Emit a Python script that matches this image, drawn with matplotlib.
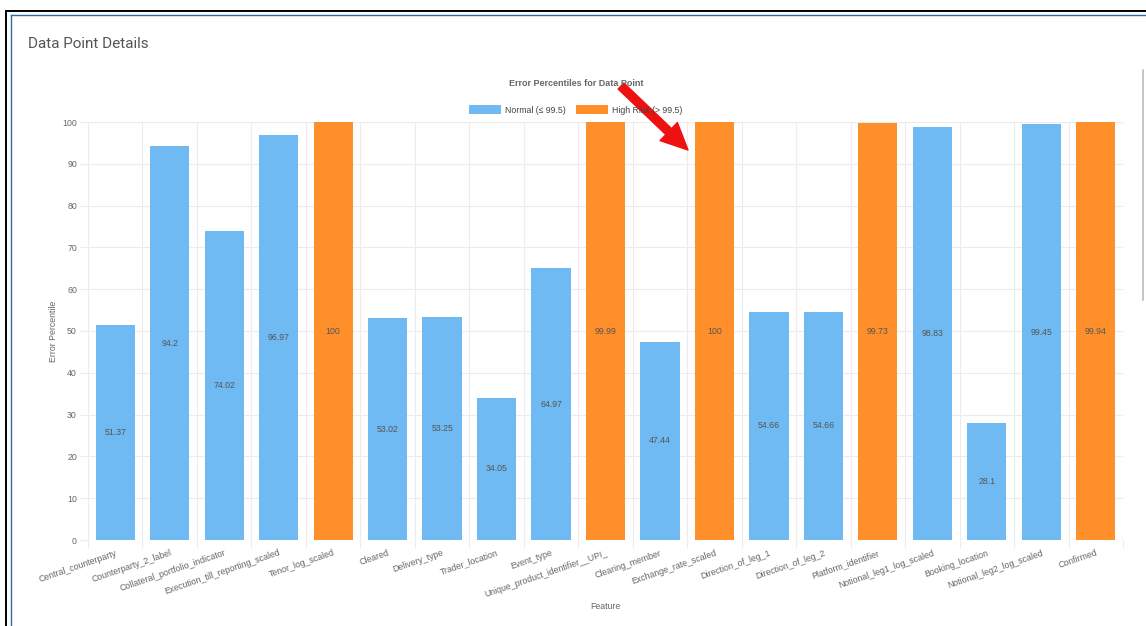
import matplotlib.pyplot as plt
from matplotlib.patches import Patch
from matplotlib.lines import Line2D
import numpy as np

features = [
    "Central_counterparty", "Counterparty_2_label", "Collateral_portfolio_indicator",
    "Execution_till_reporting_scaled", "Tenor_log_scaled", "Cleared", "Delivery_type",
    "Trader_location", "Event_type", "Unique_product_identifier__UPI_", "Clearing_member",
    "Exchange_rate_scaled", "Direction_of_leg_1", "Direction_of_leg_2", "Platform_identifier",
    "Notional_leg1_log_scaled", "Booking_location", "Notional_leg2_log_scaled", "Confirmed",
]
percentiles = [51.37, 94.2, 74.02, 96.97, 100, 53.02, 53.25, 34.05, 64.97, 99.99,
               47.44, 100, 54.66, 54.66, 99.73, 98.83, 28.1, 99.45, 99.94]
threshold = 99.5

BLUE = "#6fbaf3"
ORANGE = "#ff8f2b"
GRID = "#ececec"
TXT = "#666666"

W, H = 1146, 626
fig = plt.figure(figsize=(W / 100, H / 100), dpi=100)
plt.rcParams["font.family"] = ["Liberation Sans", "DejaVu Sans"]

def fx(px):
    return px / W

def fy(py):
    return 1 - py / H

# page frame
fig.add_artist(Line2D([fx(6), fx(6)], [fy(11), 0], color="black", lw=1.4))
fig.add_artist(Line2D([fx(6), 1], [fy(11), fy(11)], color="black", lw=1.4))
fig.add_artist(Line2D([fx(11), fx(11)], [fy(15), 0], color="#2f6aa6", lw=1.0))
fig.add_artist(Line2D([fx(11), 1], [fy(15), fy(15)], color="#2f6aa6", lw=1.0))
fig.add_artist(Line2D([fx(1143), fx(1143)], [fy(70), fy(300)], color="#bbbbbb", lw=1.2))

fig.text(fx(28), fy(44), "Data Point Details", fontsize=11, color="#555555",
         family=["Roboto", "DejaVu Sans"], va="center", ha="left")

ax = fig.add_axes([fx(88), fy(540), fx(1123 - 88), (540 - 122) / H])
x = np.arange(len(features))
colors = [ORANGE if v > threshold else BLUE for v in percentiles]
bars = ax.bar(x, percentiles, width=0.72, color=colors, zorder=2)

for b, v in zip(bars, percentiles):
    ax.text(b.get_x() + b.get_width() / 2, v / 2, f"{v:g}", ha="center", va="center",
            fontsize=6.3, color="#555555", zorder=3)

ax.set_xlim(-0.5, len(features) - 0.5)
ax.set_ylim(0, 100)
ax.set_yticks(range(0, 101, 10))
ax.set_xticks(x)
ax.set_xticklabels(features, rotation=19, ha="right", rotation_mode="anchor",
                   fontsize=6.3, color=TXT)
ax.set_xticks(np.arange(-0.5, len(features)), minor=True)
ax.tick_params(axis="x", which="major", length=0, pad=6)
ax.tick_params(axis="x", which="minor", length=6, color=GRID, width=0.8)
ax.tick_params(axis="y", length=6, color=GRID, width=0.8, labelsize=6.3,
               labelcolor=TXT, pad=2)
ax.grid(axis="y", color=GRID, lw=0.8, zorder=0)
ax.grid(axis="x", which="minor", color=GRID, lw=0.8, zorder=0)
for s in ax.spines.values():
    s.set_visible(False)
ax.axhline(0, color="#dddddd", lw=0.8, zorder=1)

ax.set_ylabel("Error Percentile", fontsize=6.3, color=TXT, labelpad=3)
ax.set_xlabel("Feature", fontsize=6.3, color=TXT, labelpad=2)

fig.text(fx(576), fy(83), "Error Percentiles for Data Point", fontsize=6.5,
         color=TXT, ha="center", va="center", fontweight="bold")
handles = [Patch(facecolor=BLUE, label="Normal (≤ 99.5)"),
           Patch(facecolor=ORANGE, label="High Risk (> 99.5)")]
fig.legend(handles=handles, loc="center", bbox_to_anchor=(fx(576), fy(110)), ncol=2,
           frameon=False, fontsize=6.3, handlelength=3.6, handleheight=1.1,
           columnspacing=1.2, handletextpad=0.5, labelcolor="#444444")

# red pointer arrow
fig.add_artist(plt.Annotation("", xy=(fx(688), fy(150)), xytext=(fx(621), fy(86)),
                              xycoords="figure fraction", textcoords="figure fraction",
                              arrowprops=dict(arrowstyle="simple,head_width=1.5,head_length=1.6,tail_width=0.5",
                                              color="#ee1111", mutation_scale=12,
                                              shrinkA=0, shrinkB=0)))

fig.savefig("out.png", dpi=100)
